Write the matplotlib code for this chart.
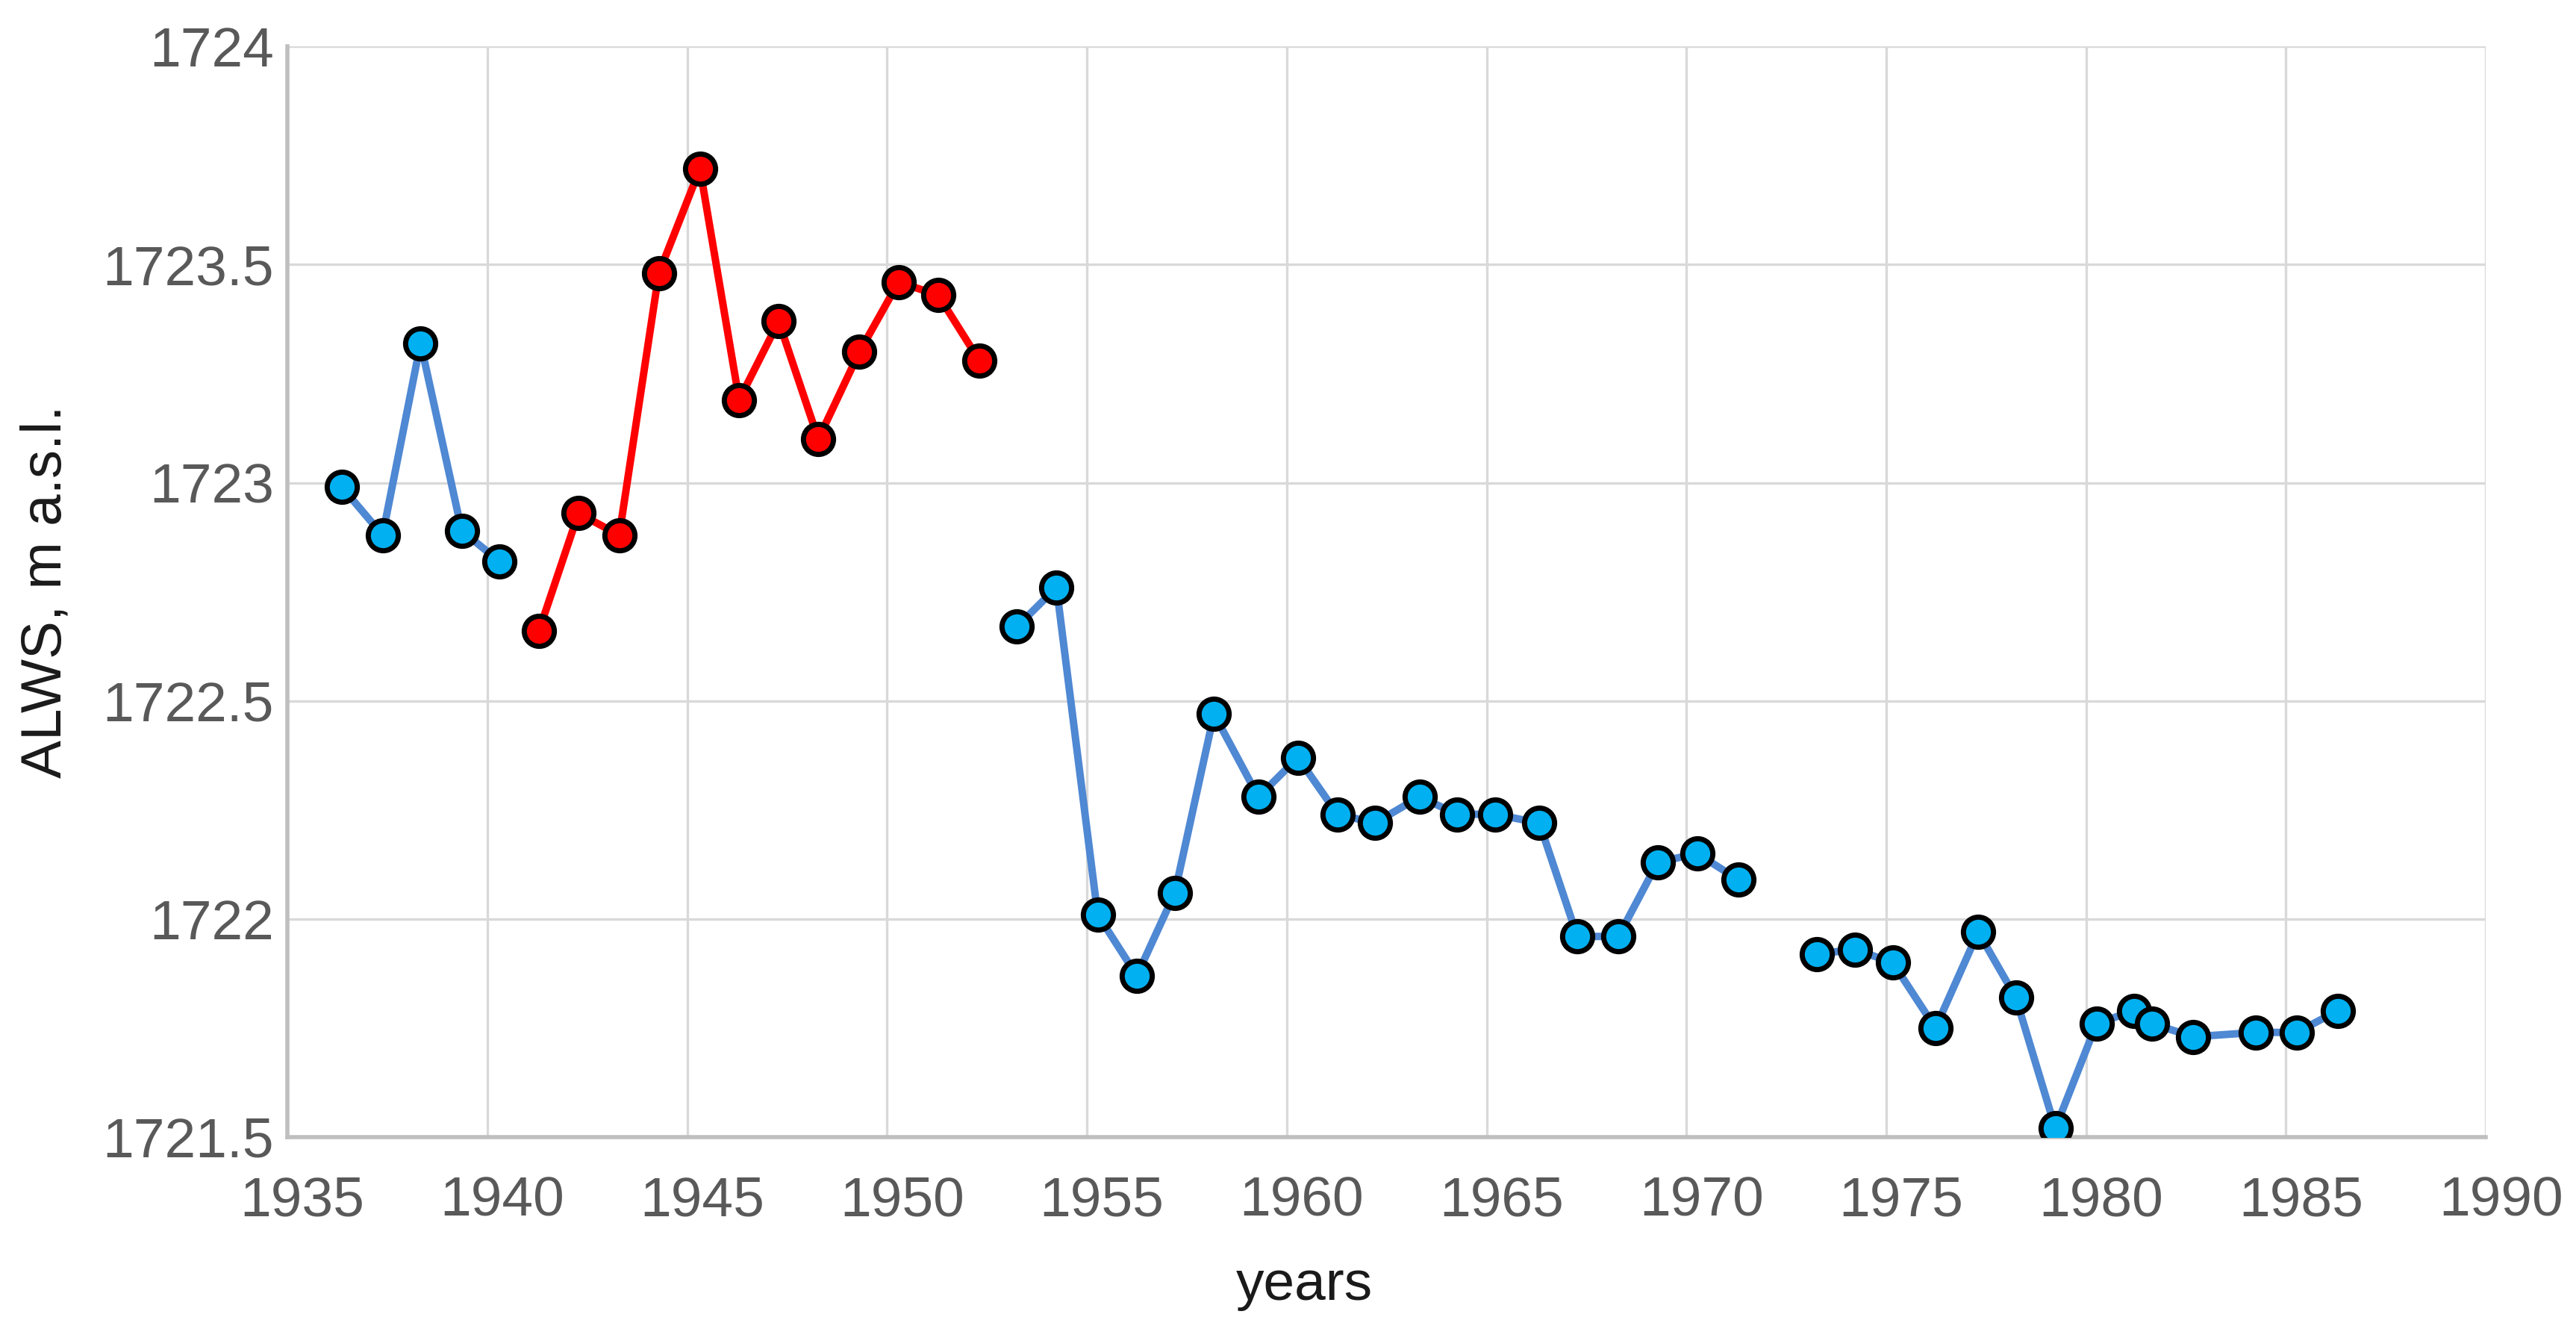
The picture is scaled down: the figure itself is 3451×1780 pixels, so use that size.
import matplotlib
matplotlib.use("Agg")
from matplotlib import pyplot as plt
from matplotlib import transforms

plt.rcParams['font.family'] = ['Liberation Sans', 'DejaVu Sans']

# blue series, first part (before the red stretch)
years_a = [1936.36, 1937.38, 1938.33, 1939.36, 1940.30]
alws_a = [1722.99, 1722.88, 1723.32, 1722.89, 1722.82]

# red stretch
years_red = [1941.29, 1942.28, 1943.30, 1944.29, 1945.32, 1946.30, 1947.29,
             1948.28, 1949.31, 1950.29, 1951.28, 1952.31]
alws_red = [1722.66, 1722.93, 1722.88, 1723.48, 1723.72, 1723.19, 1723.37,
            1723.10, 1723.30, 1723.46, 1723.43, 1723.28]

# blue series, middle part
years_b = [1953.25, 1954.24, 1955.27, 1956.25, 1957.20, 1958.18, 1959.29,
           1960.28, 1961.27, 1962.21, 1963.32, 1964.27, 1965.21, 1966.32,
           1967.27, 1968.30, 1969.28, 1970.27, 1971.30]
alws_b = [1722.67, 1722.76, 1722.01, 1721.87, 1722.06, 1722.47, 1722.28,
          1722.37, 1722.24, 1722.22, 1722.28, 1722.24, 1722.24, 1722.22,
          1721.96, 1721.96, 1722.13, 1722.15, 1722.09]

# blue series, last part
years_c = [1973.27, 1974.22, 1975.16, 1976.23, 1977.30, 1978.24, 1979.23,
           1980.26, 1981.20, 1981.65, 1982.68, 1984.25, 1985.27, 1986.30]
alws_c = [1721.92, 1721.93, 1721.90, 1721.75, 1721.97, 1721.82, 1721.52,
          1721.76, 1721.79, 1721.76, 1721.73, 1721.74, 1721.74, 1721.79]

x_ticks = list(range(1935, 1991, 5))
y_ticks = [1721.5, 1722, 1722.5, 1723, 1723.5, 1724]
y_ticklabels = ['1721.5', '1722', '1722.5', '1723', '1723.5', '1724']

blue_line = '#4F88D3'
blue_fill = '#00B0F0'
red = '#FF0000'

f1 = plt.figure(figsize=(17.255, 8.9), dpi=200)
ax = f1.add_subplot(1, 1, 1)

style = dict(lw=3.6, marker='o', ms=14.5, mec='black', mew=2.5, zorder=3)
for xs, ys in ((years_a, alws_a), (years_b, alws_b), (years_c, alws_c)):
    ax.plot(xs, ys, color=blue_line, mfc=blue_fill, **style)
ax.plot(years_red, alws_red, color=red, mfc=red, **style)

ax.set_xlim(1935, 1990)
ax.set_ylim(1721.5, 1724)
ax.set_xticks(x_ticks)
ax.set_yticks(y_ticks)
ax.set_yticklabels(y_ticklabels)

ax.grid(True, color='#D9D9D9', lw=1.2, zorder=0)
ax.set_axisbelow(True)
for s in ('top', 'right'):
    ax.spines[s].set_visible(False)
for s in ('left', 'bottom'):
    ax.spines[s].set_color('#BFBFBF')
    ax.spines[s].set_linewidth(2.0)

ax.tick_params(axis='both', length=0, labelsize=27, colors='#595959')
ax.tick_params(axis='y', pad=6.5)
ax.tick_params(axis='x', pad=18.5)

# x tick labels sit a bit right of their gridlines in the original
shift = transforms.ScaledTranslation(7.2 / 72, 0, f1.dpi_scale_trans)
for lab in ax.get_xticklabels():
    lab.set_transform(lab.get_transform() + shift)

ax.set_xlabel('years', fontsize=27, color='#1A1A1A')
ax.xaxis.label.set_va('baseline')
ax.xaxis.set_label_coords(0.4625, -0.149)
ax.set_ylabel('ALWS, m a.s.l.', fontsize=27.5, color='#1A1A1A')
ax.yaxis.set_label_coords(-0.0975, 0.5)

f1.subplots_adjust(left=0.1116, right=0.965, top=0.965, bottom=0.1444)
f1.savefig('out.png', dpi=200, facecolor='white')
